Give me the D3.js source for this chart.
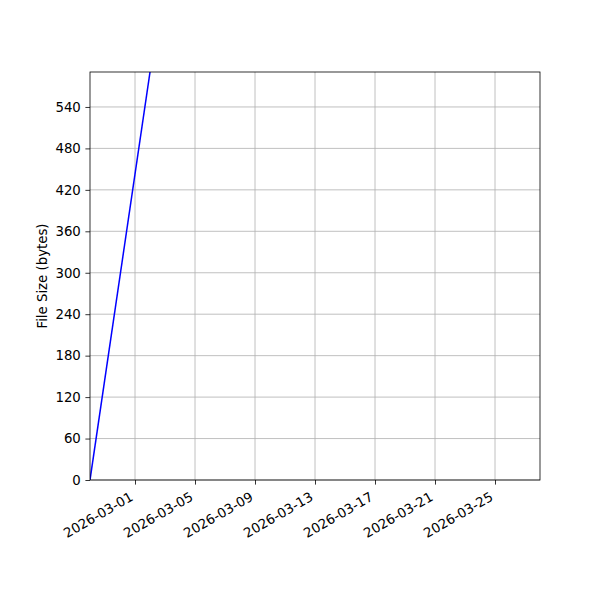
<!DOCTYPE html>
<html><head><meta charset="utf-8">
<script src="https://cdn.jsdelivr.net/npm/d3@7"></script>
<style>body{margin:0;background:#fff}svg{display:block}</style>
</head><body>
<svg id="c" width="600" height="600"></svg>
<script>
const dates = ["2026-02-26", "2026-03-03"];
const sizes = [0, 738];
const xTickDates = ["2026-03-01","2026-03-05","2026-03-09","2026-03-13","2026-03-17","2026-03-21","2026-03-25"];
const yTicks = [0,60,120,180,240,300,360,420,480,540];
const xDomain = ["2026-02-26", "2026-03-28"];
const yMax = 590.6;

const parse = d3.utcParse("%Y-%m-%d");
const fmt = d3.utcFormat("%Y-%m-%d");
const m = {l:90, r:540, t:72, b:480};
const svg = d3.select("#c");
const font = "DejaVu Sans, sans-serif";
const fs = "13.3px";
const tk = 4.6;

const x = d3.scaleUtc().domain(xDomain.map(parse)).range([m.l, m.r]);
const y = d3.scaleLinear().domain([0, yMax]).range([m.b, m.t]);

// grid
const g = svg.append("g");
g.selectAll("line.vx").data(xTickDates.map(parse)).join("line")
  .attr("x1", d=>x(d)).attr("x2", d=>x(d)).attr("y1", m.t).attr("y2", m.b)
  .attr("stroke", "#b0b0b0").attr("stroke-width", 0.8);
g.selectAll("line.hy").data(yTicks).join("line")
  .attr("y1", d=>y(d)).attr("y2", d=>y(d)).attr("x1", m.l).attr("x2", m.r)
  .attr("stroke", "#b0b0b0").attr("stroke-width", 0.8);

// line
svg.append("clipPath").attr("id","clip").append("rect")
  .attr("x", m.l).attr("y", m.t).attr("width", m.r-m.l).attr("height", m.b-m.t);
const pts = dates.map((d,i)=>({d:parse(d), v:sizes[i]}));
svg.append("path").datum(pts).attr("clip-path","url(#clip)")
  .attr("fill","none").attr("stroke","#0000ff").attr("stroke-width",1.5)
  .attr("d", d3.line().x(p=>x(p.d)).y(p=>y(p.v)));

// axes
const xa = svg.append("g").attr("transform", `translate(0,${m.b})`)
  .call(d3.axisBottom(x).tickValues(xTickDates.map(parse)).tickFormat(fmt).tickSizeOuter(0).tickSize(tk).tickPadding(tk));
xa.select(".domain").remove();
xa.selectAll("line").attr("stroke","#000").attr("stroke-width",0.8);
const ang = -30 * Math.PI / 180;
xa.selectAll("text").attr("font-family", font).attr("font-size", fs).attr("fill","#000")
  .attr("text-anchor","end").attr("dy", null).attr("y", 0).attr("x", 0)
  .each(function(){
    const bb = this.getBBox();
    const corners = [[bb.x,bb.y],[bb.x+bb.width,bb.y],[bb.x,bb.y+bb.height],[bb.x+bb.width,bb.y+bb.height]]
      .map(([px,py])=>[px*Math.cos(ang)-py*Math.sin(ang), px*Math.sin(ang)+py*Math.cos(ang)]);
    const maxX = d3.max(corners, c=>c[0]);
    const minY = d3.min(corners, c=>c[1]);
    const tx = -maxX, ty = 2*tk - minY;
    d3.select(this).attr("transform", `translate(${tx},${ty}) rotate(-30)`);
  });

const ya = svg.append("g").attr("transform", `translate(${m.l},0)`)
  .call(d3.axisLeft(y).tickValues(yTicks).tickSizeOuter(0).tickSize(tk).tickPadding(tk));
ya.select(".domain").remove();
ya.selectAll("line").attr("stroke","#000").attr("stroke-width",0.8);
ya.selectAll("text").attr("font-family", font).attr("font-size", fs).attr("fill","#000");

// frame
svg.append("rect").attr("x", m.l).attr("y", m.t).attr("width", m.r-m.l).attr("height", m.b-m.t)
  .attr("fill","none").attr("stroke","#000").attr("stroke-width",0.8);

svg.append("text").attr("transform", `translate(46.5,${(m.t+m.b)/2}) rotate(-90)`)
  .attr("text-anchor","middle").attr("font-family", font).attr("font-size", fs)
  .text("File Size (bytes)");
</script>
</body></html>
